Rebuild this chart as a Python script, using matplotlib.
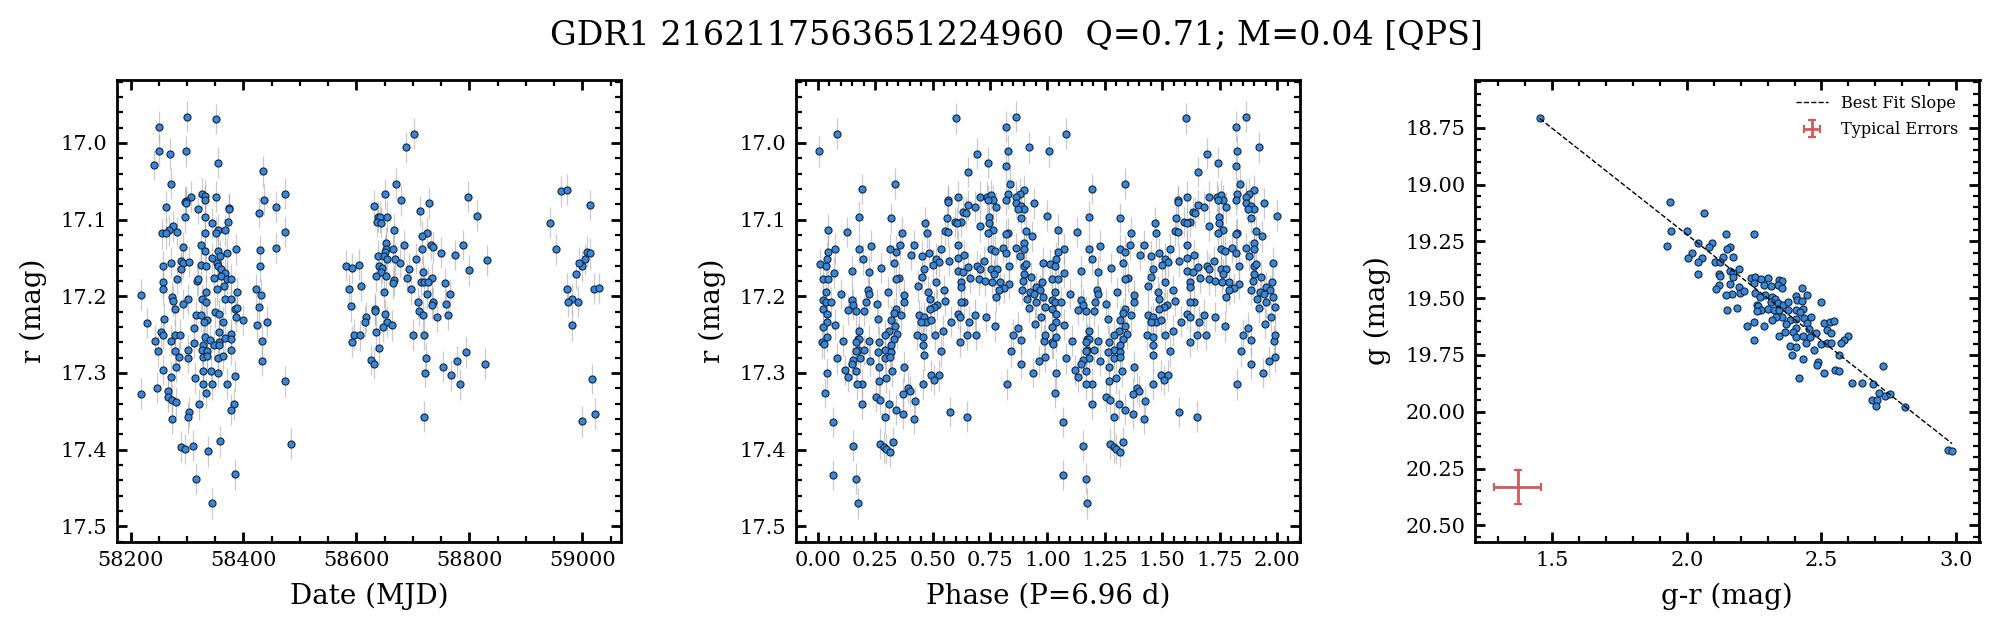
import matplotlib
matplotlib.use("Agg")
import matplotlib.pyplot as plt
from matplotlib.ticker import MultipleLocator, FormatStrFormatter

# --- panel 1: date and r magnitude ---
dates = [58299.5,58352,58249.5,58249.5,58269,58299,58354,58242,58435,58271,58473,58327,58332.5,58306.5,58352,58437,58332.5,58298,58296.6,58298,
58262,58457,58320,58375,58374,58428,58297,58332.5,58345,58373,58276,58268,58354,58352,58368,58474,58256,58263,58283,58332.5,
58324,58292,58332.5,58354,58387,58430,58457,58345,58358,58371,58257,58272,58290,58292,58304,58290,58325,58333,58353,58354,
58361,58430,58367,58360,58371,58377,58347,58283,58317,58320,58258,58366,58353,58258,58334,58423,58389,58431,58219,58273,
58276,58301,58293,58327,58334,58367,58378,58428,58279,58385,58389,58350,58356,58316,58324,58387,58260,58336,58330,58400,
58230,58363,58442,58424,58313,58356,58254,58257,58278,58288,58378,58331,58368,58377,58244,58272,58340,58356,58433,58313,
58329,58348,58357,58248,58278,58301,58327,58336,58377,58285,58329,58301,58336,58355,58364,58433,58281,58258,58329,58343,
58355,58272,58315,58385,58474,58246,58329,58345,58370,58219,58267,58334,58267,58274,58281,58322,58384,58378,58304,58301,
58274,58289,58297,58310,58338,58359,58484,58316,58385,58344,
58702,58688,58670,58651,58798,58631,58679,58729,58713,58639,58642,58654,58813,58636,58643,58667,58725,58716,58653,58685,
58732,58736,58789,58716,58665,58653,58651,58750,58638,58649,58775,58654,58706,58668,58831,58677,58582,58593,58605,58640,
58646,58693,58799,58644,58718,58635,58653,58690,58734,58714,58720,58727,58757,58667,58664,58608,58587,58697,58649,58725,
58766,58591,58709,58736,58733,58759,58633,58633,58711,58651,58718,58762,58743,58617,58616,58654,58647,58663,58635,58596,
58607,58700,58720,58593,58640,58794,58723,58626,58631,58778,58828,58753,58722,58767,58783,58720,
58943,58963,58972,58954,59013,58973,58982,58975,58982,58993,59000,59004,59009,59013,59020,59029,59018,59022,59000,58988,58995]
r_mag = [16.966,16.969,16.979,17.010,17.014,17.011,17.026,17.029,17.037,17.053,17.066,17.066,17.069,17.070,17.070,17.074,17.075,17.076,17.077,17.079,
17.083,17.083,17.086,17.085,17.086,17.091,17.097,17.097,17.105,17.103,17.109,17.114,17.113,17.117,17.114,17.116,17.118,17.118,17.116,17.118,
17.133,17.136,17.141,17.141,17.139,17.140,17.137,17.150,17.147,17.144,17.161,17.156,17.154,17.157,17.155,17.165,17.159,17.161,17.157,17.160,
17.164,17.161,17.170,17.173,17.177,17.178,17.176,17.178,17.180,17.178,17.182,17.187,17.191,17.191,17.194,17.191,17.195,17.198,17.198,17.201,
17.206,17.204,17.210,17.204,17.208,17.203,17.203,17.214,17.217,17.216,17.215,17.221,17.223,17.225,17.225,17.227,17.229,17.231,17.233,17.231,
17.235,17.234,17.233,17.237,17.242,17.246,17.247,17.250,17.251,17.250,17.249,17.253,17.254,17.256,17.258,17.258,17.257,17.259,17.258,17.261,
17.263,17.263,17.264,17.272,17.272,17.270,17.270,17.272,17.270,17.279,17.279,17.280,17.278,17.280,17.278,17.284,17.292,17.296,17.298,17.298,
17.300,17.305,17.306,17.304,17.311,17.319,17.315,17.315,17.314,17.327,17.324,17.326,17.331,17.335,17.338,17.341,17.341,17.348,17.351,17.358,
17.360,17.396,17.399,17.395,17.402,17.389,17.392,17.438,17.432,17.470,
16.988,17.006,17.053,17.067,17.070,17.082,17.075,17.079,17.089,17.096,17.097,17.096,17.095,17.103,17.104,17.113,17.117,17.122,17.130,17.133,
17.133,17.136,17.133,17.138,17.138,17.138,17.142,17.143,17.147,17.148,17.146,17.151,17.151,17.152,17.153,17.156,17.160,17.163,17.159,17.160,
17.163,17.164,17.166,17.168,17.168,17.174,17.173,17.176,17.176,17.181,17.181,17.182,17.183,17.179,17.183,17.186,17.191,17.191,17.195,17.197,
17.197,17.213,17.208,17.208,17.211,17.210,17.216,17.219,17.219,17.223,17.225,17.224,17.227,17.227,17.233,17.233,17.240,17.238,17.246,17.250,
17.251,17.250,17.250,17.259,17.268,17.273,17.281,17.283,17.288,17.285,17.288,17.292,17.300,17.303,17.315,17.357,
17.104,17.063,17.061,17.139,17.081,17.190,17.204,17.207,17.238,17.207,17.161,17.152,17.142,17.144,17.190,17.189,17.308,17.353,17.363,17.171,17.156]
r_err = 0.02

# --- panel 2: folded phase and r magnitude (one cycle, drawn twice) ---
phases = [.005,.083,.603,.820,.863,.693,.828,.920,.741,.820,.654,.837,.336,.192,.900,.879,.863,.828,.610,.706,.737,.754,.764,.741,.820,.567,.567,.863,.942,.654,.684,.776,.885,.898,.872,.632,.645,.746,.562,.179,.318,.885,.998,.467,.597,.623,.746,.706,.606,.044,.127,.366,.475,.554,.567,.764,.741,.828,.820,.907,.933,.898,.358,.419,.610,.231,.863,.074,.179,.314,.536,.754,.772,.806,.898,.044,.340,.820,.879,.405,.484,.453,.610,.637,.514,.039,.196,.571,.527,.331,.724,.981,.009,.501,.035,.693,.706,.654,.275,.833,.898,.907,.148,.462,.610,.632,.754,.780,.222,.070,.767,.898,.453,.663,.353,.340,.929,.021,.044,.702,.728,.759,.793,.894,.977,.514,.623,.833,.436,.811,.623,.950,.549,.789,.218,.889,.968,.035,.100,.222,.305,.375,.480,.924,.942,.776,.981,.911,.022,.148,.488,.554,.209,.637,.623,.035,.057,.257,.375,.153,.519,.950,.506,.488,.022,.131,.166,.201,.340,.920,.990,.331,.039,.610,.684,.440,.462,.619,.732,.362,.972,.262,.318,.471,.493,.580,.449,.659,.039,.074,.336,.022,.946,.772,.872,.179,.310,.545,
.850,.018,.026,.039,.109,.174,.179,.166,.222,.266,.292,.345,.331,.432,.458,.510,.650,.689,.619,.458,.885,.985,.990,.318,.292,.174,.201,.262,.318,.536,.842,.166,.183,.292,.314,.462,.990,.083,.227,.153,.148,.964,.885,.266,.375,.118,.323,.166,.039,.937,.131,.493,.527,.506,.297,.266,.192,.170,.458,.824,.392,.401,.371,.031,.253,.271,.423,.310,.192,.340,.371,.575,.650,.292,.419,.066,.327,.271,.153,.288,.297,.314,.066,.166,.174]
phase_mag = [17.011,16.988,16.968,16.979,16.966,17.014,17.010,17.006,17.026,17.030,17.038,17.053,17.053,17.060,17.062,17.066,17.070,17.066,17.070,17.070,17.070,17.068,17.075,17.075,17.074,17.075,17.077,17.078,17.079,17.081,17.083,17.084,17.082,17.086,17.086,17.090,17.091,17.096,17.098,17.096,17.098,17.098,17.095,17.104,17.103,17.103,17.104,17.109,17.105,17.113,17.116,17.117,17.117,17.115,17.116,17.113,17.118,17.118,17.119,17.115,17.122,17.130,17.133,17.133,17.133,17.134,17.137,17.138,17.138,17.139,17.138,17.139,17.141,17.137,17.139,17.142,17.142,17.143,17.147,17.146,17.144,17.148,17.150,17.146,17.151,17.151,17.152,17.154,17.155,17.156,17.154,17.156,17.158,17.159,17.160,17.160,17.165,17.162,17.163,17.161,17.160,17.158,17.167,17.165,17.167,17.168,17.164,17.164,17.168,17.169,17.171,17.171,17.175,17.176,17.176,17.178,17.175,17.178,17.178,17.178,17.180,17.181,17.181,17.180,17.182,17.182,17.182,17.184,17.186,17.189,17.188,17.188,17.192,17.192,17.192,17.192,17.192,17.194,17.197,17.197,17.195,17.198,17.194,17.195,17.197,17.201,17.201,17.203,17.205,17.205,17.203,17.206,17.207,17.207,17.208,17.208,17.208,17.210,17.208,17.211,17.211,17.208,17.214,17.216,17.216,17.218,17.219,17.219,17.216,17.215,17.214,17.222,17.223,17.223,17.224,17.225,17.227,17.227,17.227,17.225,17.227,17.229,17.231,17.233,17.231,17.233,17.233,17.233,17.233,17.237,17.239,17.240,17.236,17.239,17.241,17.245,17.245,17.245,
17.250,17.260,17.262,17.253,17.258,17.256,17.256,17.259,17.258,17.259,17.251,17.249,17.256,17.250,17.253,17.250,17.250,17.250,17.259,17.263,17.257,17.258,17.251,17.264,17.270,17.270,17.270,17.273,17.273,17.272,17.272,17.272,17.280,17.280,17.279,17.277,17.279,17.281,17.284,17.283,17.288,17.285,17.288,17.292,17.292,17.296,17.298,17.298,17.300,17.300,17.305,17.303,17.303,17.309,17.306,17.311,17.314,17.315,17.315,17.315,17.319,17.324,17.327,17.326,17.331,17.335,17.337,17.341,17.341,17.348,17.353,17.351,17.357,17.358,17.360,17.364,17.390,17.392,17.395,17.397,17.399,17.403,17.433,17.438,17.470]

# --- panel 3: colour and g magnitude ---
g_r = [1.454,1.939,2.062,1.943,1.999,2.144,2.248,2.040,2.095,1.928,2.081,2.159,2.151,2.021,2.006,2.055,2.040,2.170,2.136,2.103,2.125,2.192,2.162,2.173,2.040,2.118,2.125,2.170,2.237,2.255,2.277,2.303,2.341,2.355,2.251,2.337,2.285,2.311,2.162,2.118,2.110,2.192,2.352,2.426,2.199,2.214,2.166,2.144,2.255,2.292,2.404,2.448,2.270,2.318,2.411,2.329,2.311,2.500,2.426,2.340,2.359,2.374,2.259,2.266,2.185,2.151,2.277,2.303,2.322,2.344,2.374,2.407,2.433,2.259,2.422,2.355,2.333,2.315,2.385,2.407,2.437,2.463,2.248,2.225,2.285,2.367,2.448,2.508,2.530,2.545,2.407,2.452,2.522,2.363,2.393,2.478,2.537,2.344,2.407,2.430,2.459,2.597,2.582,2.251,2.571,2.441,2.497,2.519,2.537,2.385,2.407,2.474,2.389,2.567,2.430,2.489,2.485,2.552,2.567,2.511,2.415,2.615,2.649,2.693,2.712,2.686,2.705,2.701,2.735,2.755,2.73,2.81,2.97,2.985]
g_mag = [18.709,19.078,19.127,19.206,19.206,19.219,19.219,19.259,19.259,19.272,19.276,19.276,19.285,19.303,19.325,19.325,19.342,19.320,19.320,19.342,19.342,19.373,19.382,19.391,19.395,19.395,19.404,19.408,19.413,19.408,19.417,19.413,19.422,19.426,19.435,19.444,19.444,19.448,19.439,19.444,19.461,19.452,19.457,19.457,19.479,19.470,19.483,19.488,19.479,19.488,19.492,19.488,19.496,19.496,19.510,19.505,19.518,19.518,19.514,19.523,19.532,19.518,19.532,19.536,19.545,19.554,19.554,19.549,19.554,19.554,19.554,19.554,19.549,19.558,19.562,19.584,19.584,19.598,19.598,19.593,19.589,19.584,19.606,19.624,19.624,19.615,19.611,19.611,19.606,19.602,19.633,19.637,19.642,19.650,19.650,19.655,19.655,19.668,19.672,19.668,19.672,19.668,19.686,19.686,19.699,19.699,19.703,19.699,19.699,19.712,19.716,19.730,19.752,19.752,19.769,19.782,19.796,19.818,19.822,19.831,19.853,19.875,19.875,19.879,19.919,19.950,19.950,19.976,19.93,19.92,19.80,19.98,20.17,20.175]
fit_color = [1.454, 2.985]
fit_g = [18.71, 20.14]
typical_color = [1.372]
typical_g = [20.332]
typical_color_err = 0.087
typical_g_err = 0.075

plt.rcParams['font.family'] = 'DejaVu Serif'
plt.rcParams['font.size'] = 7.5

fig, axes = plt.subplots(1, 3, figsize=(9.985, 3.16), dpi=200)
fig.subplots_adjust(left=117/1997, right=1979.5/1997, top=1-80/632, bottom=1-541.7/632, wspace=0.3467)

BLUE = '#3a87d8'

def draw(ax, x, y, yerr=None):
    if yerr is not None:
        ax.errorbar(x, y, yerr=yerr, fmt='none', ecolor='#a0a0a0', elinewidth=0.45, alpha=0.55, zorder=1)
    ax.scatter(x, y, s=6.5, c=BLUE, edgecolors='#10253f', linewidths=0.4, zorder=2)

def style(ax, xmaj, xmin, ymaj, ymin):
    ax.xaxis.set_major_locator(MultipleLocator(xmaj))
    ax.xaxis.set_minor_locator(MultipleLocator(xmin))
    ax.yaxis.set_major_locator(MultipleLocator(ymaj))
    ax.yaxis.set_minor_locator(MultipleLocator(ymin))
    ax.tick_params(which='both', direction='in', top=True, right=True, labelsize=7.5)
    ax.tick_params(which='major', length=3.5, width=1)
    ax.tick_params(which='minor', length=2, width=0.8)
    for s in ax.spines.values():
        s.set_linewidth(1)

ax = axes[0]
draw(ax, dates, r_mag, r_err)
ax.set_xlim(58176, 59069)
ax.set_ylim(17.520, 16.918)
style(ax, 200, 50, 0.1, 0.02)
ax.set_xlabel('Date (MJD)', fontsize=10, labelpad=4.5)
ax.set_ylabel('r (mag)', fontsize=10, labelpad=5)

ax = axes[1]
for shift in (0, 1):
    draw(ax, [p + shift for p in phases], phase_mag, r_err)
ax.set_xlim(-0.095, 2.102)
ax.set_ylim(17.520, 16.918)
style(ax, 0.25, 0.05, 0.1, 0.02)
ax.xaxis.set_major_formatter(FormatStrFormatter('%.2f'))
ax.set_xlabel('Phase (P=6.96 d)', fontsize=10, labelpad=4.5)
ax.set_ylabel('r (mag)', fontsize=10, labelpad=5)

ax = axes[2]
draw(ax, g_r, g_mag)
ax.plot(fit_color, fit_g, color='k', ls='--', lw=0.5, label='Best Fit Slope', zorder=3)
ax.errorbar(typical_color, typical_g, xerr=typical_color_err, yerr=typical_g_err, fmt='none',
            ecolor='#d05a5c', elinewidth=1, capsize=1.3, capthick=0.8, label='Typical Errors')
ax.set_xlim(1.214, 3.087)
ax.set_ylim(20.572, 18.54)
style(ax, 0.5, 0.1, 0.25, 0.05)
ax.yaxis.set_major_formatter(FormatStrFormatter('%.2f'))
ax.set_xlabel('g-r (mag)', fontsize=10, labelpad=4.5)
ax.set_ylabel('g (mag)', fontsize=10, labelpad=5)
ax.legend(loc='upper right', bbox_to_anchor=(0.987, 1.0), fontsize=5.8, frameon=False,
          labelspacing=0.6, borderaxespad=0.5)

fig.text(1016/1997, 1-35.5/632, 'GDR1 2162117563651224960  Q=0.71; M=0.04 [QPS]', ha='center', va='center', fontsize=12)

fig.savefig('out.png', dpi=200)
